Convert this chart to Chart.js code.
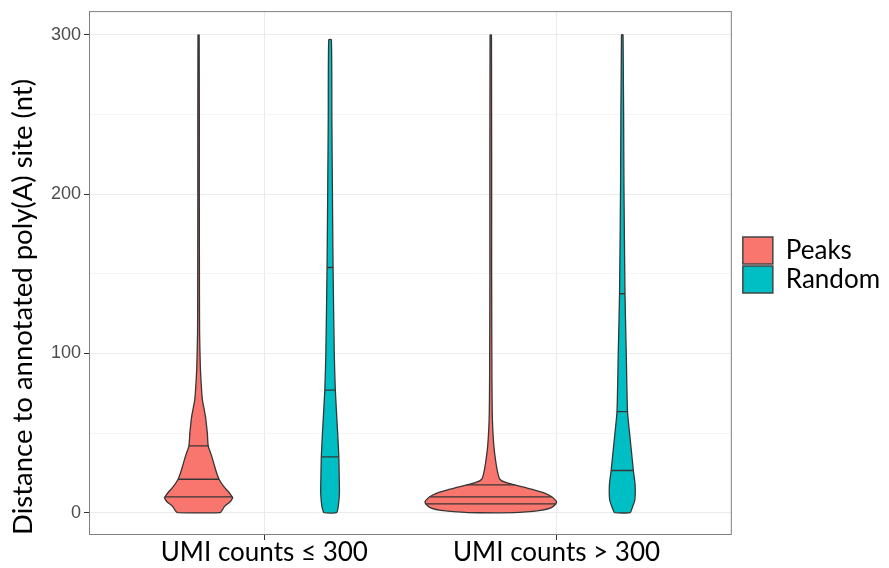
<!DOCTYPE html>
<html>
<head>
<meta charset="utf-8">
<script src="https://cdn.jsdelivr.net/npm/chart.js@4.4.1/dist/chart.umd.min.js"></script>
<style>
  html, body { margin: 0; padding: 0; background: #fff; }
  #wrap { width: 889px; height: 568px; }
</style>
</head>
<body>
<div id="wrap"><canvas id="violin"></canvas></div>
<script>
// --- data ---
const categories = ['UMI counts ≤ 300', 'UMI counts > 300'];
const groups = ['Peaks', 'Random'];
const groupColors = ['#F8766D', '#00BFC4'];
const yTicks = [0, 100, 200, 300];
const yMinorTicks = [50, 150, 250];

// violin outlines: distance (nt) and density half-width (x axis units)
const peaksLowDist  = [0, 2, 4, 7, 9.5, 10, 13, 16, 21, 26, 31, 36, 42, 50, 55, 60, 65, 71, 81, 92, 113, 135, 200, 300];
const peaksLowWidth = [0.074, 0.082, 0.089, 0.109, 0.117, 0.115, 0.103, 0.088, 0.070, 0.060, 0.052, 0.044, 0.033, 0.030, 0.027, 0.024, 0.019, 0.013, 0.009, 0.006, 0.0035, 0.003, 0.0025, 0.002];
const peaksLowQuant = [10, 21, 42];

const randomLowDist  = [0, 4, 12, 21, 35, 50, 77, 100, 154, 205, 247, 297];
const randomLowWidth = [0.022, 0.028, 0.032, 0.0315, 0.030, 0.026, 0.018, 0.0144, 0.0103, 0.0079, 0.0062, 0.0045];
const randomLowQuant = [35, 77, 154];

const peaksHighDist  = [0, 1.5, 3, 5.5, 7, 8.5, 10, 12, 14, 16, 17.5, 19, 21, 25, 31, 41, 52, 63, 84, 150, 300];
const peaksHighWidth = [0.079, 0.171, 0.206, 0.222, 0.225, 0.218, 0.209, 0.188, 0.154, 0.113, 0.082, 0.051, 0.031, 0.024, 0.018, 0.011, 0.007, 0.005, 0.004, 0.003, 0.0024];
const peaksHighQuant = [5.5, 10, 17.5];

const randomHighDist  = [0, 3, 8, 17.5, 26.5, 37.5, 50, 63.5, 100, 137.5, 205, 300];
const randomHighWidth = [0.027, 0.034, 0.043, 0.044, 0.038, 0.032, 0.025, 0.018, 0.0137, 0.0093, 0.0058, 0.0027];
const randomHighQuant = [26.5, 63.5, 137.5];

const violins = [
  { cat: 0, group: 0, dist: peaksLowDist,   width: peaksLowWidth,   quant: peaksLowQuant },
  { cat: 0, group: 1, dist: randomLowDist,  width: randomLowWidth,  quant: randomLowQuant },
  { cat: 1, group: 0, dist: peaksHighDist,  width: peaksHighWidth,  quant: peaksHighQuant },
  { cat: 1, group: 1, dist: randomHighDist, width: randomHighWidth, quant: randomHighQuant }
];

const DODGE = 0.225;
const OUTLINE = '#363636';

// --- datasets : one closed outline per violin + its quantile lines ---
const datasets = [];
violins.forEach(v => {
  const center = v.cat + 1 + (v.group === 0 ? -DODGE : DODGE);
  const left = v.dist.map((d, i) => ({ x: center - v.width[i], y: d }));
  const right = v.dist.map((d, i) => ({ x: center + v.width[i], y: d })).reverse();
  datasets.push({
    data: [...left, ...right, left[0]],
    backgroundColor: groupColors[v.group],
    borderColor: OUTLINE,
    borderWidth: 1.3,
    fill: 'shape',
    pointRadius: 0,
    tension: 0.2,
    order: 1
  });
  // quantile lines go on top of the filled shapes
  v.quant.forEach(q => {
    const i = v.dist.indexOf(q);
    datasets.push({
      data: [{ x: center - v.width[i], y: q }, { x: center + v.width[i], y: q }],
      borderColor: OUTLINE,
      borderWidth: 1.3,
      fill: false,
      pointRadius: 0,
      order: 0
    });
  });
});

// grey frame around the plot panel
const panelBorder = {
  id: 'panelBorder',
  afterDatasetsDraw(chart) {
    const { ctx, chartArea: a } = chart;
    ctx.save();
    ctx.strokeStyle = '#7f7f7f';
    ctx.lineWidth = 1;
    ctx.strokeRect(a.left + 0.5, a.top + 0.5, a.right - a.left - 1, a.bottom - a.top - 1);
    ctx.restore();
  }
};

new Chart(document.getElementById('violin'), {
  type: 'line',
  data: { datasets },
  plugins: [panelBorder],
  options: {
    responsive: true,
    maintainAspectRatio: false,
    animation: false,
    layout: { padding: { top: 11, right: 0, bottom: 0, left: 0 } },
    plugins: {
      tooltip: { enabled: false },
      legend: {
        position: 'right',
        fullSize: false,
        align: 'start',
        onClick: null,
        title: { display: true, text: '', font: { size: 10 }, padding: { top: 212, bottom: 0 } },
        labels: {
          boxWidth: 30,
          boxHeight: 27,
          padding: 2,
          color: '#000',
          font: { family: 'Lato', size: 26 },
          generateLabels: () => groups.map((g, i) => ({
            text: g,
            fillStyle: groupColors[i],
            strokeStyle: '#444',
            fontColor: '#000',
            lineWidth: 1.5,
            hidden: false,
            index: i
          }))
        }
      }
    },
    scales: {
      x: {
        type: 'linear',
        min: 0.4,
        max: 2.6,
        afterBuildTicks: s => { s.ticks = categories.map((c, i) => ({ value: i + 1 })); },
        afterFit: s => { s.height = 33; },
        border: { display: false },
        grid: { color: '#ebebeb', tickColor: '#333', tickLength: 5 },
        ticks: {
          padding: 0,
          color: '#000',
          font: { family: 'Lato', size: 26, lineHeight: 1 },
          maxRotation: 0,
          callback: v => categories[v - 1]
        }
      },
      y: {
        type: 'linear',
        min: -14,
        max: 315,
        afterBuildTicks: s => {
          s.ticks = [...yTicks, ...yMinorTicks].sort((a, b) => a - b).map(v => ({ value: v }));
        },
        afterFit: s => { s.width = 89; },
        border: { display: false },
        grid: {
          color: c => (yTicks.includes(c.tick.value) ? '#ebebeb' : '#f4f4f4'),
          tickColor: c => (yTicks.includes(c.tick.value) ? '#333' : 'rgba(0,0,0,0)'),
          tickLength: 5
        },
        ticks: {
          padding: 3,
          color: '#4d4d4d',
          font: { family: 'Liberation Sans', size: 18, lineHeight: 0.9 },
          callback: v => (yTicks.includes(v) ? v : '')
        },
        title: {
          display: true,
          text: 'Distance to annotated poly(A) site (nt)',
          align: 'start',
          color: '#000',
          font: { family: 'Lato', size: 27.5 },
          padding: { top: 7, bottom: 0 }
        }
      },
      gap: {
        type: 'linear',
        position: 'right',
        display: true,
        grid: { display: false, drawTicks: false },
        ticks: { display: false },
        border: { display: false },
        afterFit: s => { s.width = 9; }
      }
    }
  }
});
</script>
</body>
</html>
